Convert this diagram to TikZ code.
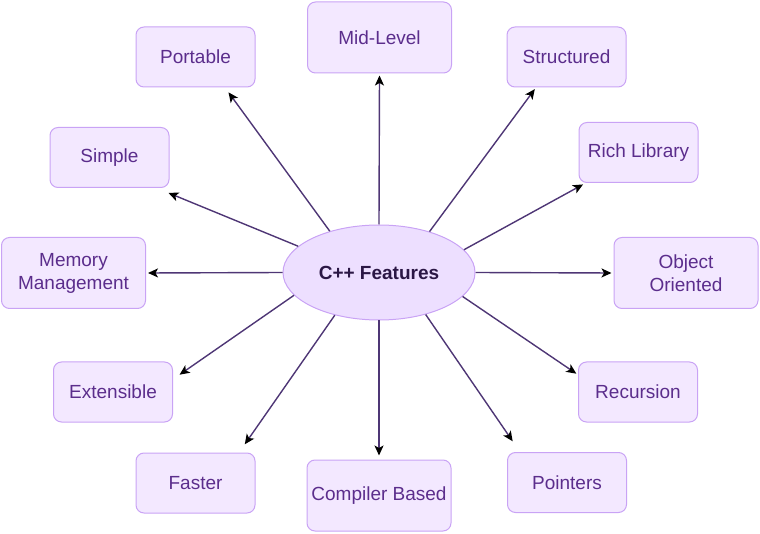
\documentclass[tikz,border=0pt]{standalone}
\usepackage{fontspec}
\setmainfont{Liberation Sans}
\usetikzlibrary{arrows.meta,shapes.geometric}
\definecolor{boxfill}{HTML}{F3E8FF}
\definecolor{boxline}{HTML}{C9A3F5}
\definecolor{hubfill}{HTML}{EDDFFF}
\definecolor{boxtext}{HTML}{5B2D8C}
\definecolor{hubtext}{HTML}{2B1745}
\definecolor{linkline}{HTML}{4E3675}
\begin{document}
\begin{tikzpicture}
  [x=1pt,y=-1pt,every node/.style={font=\fontsize{19}{23}\selectfont,align=center}]
  \tikzstyle{feature} = [draw=boxline,fill=boxfill,text=boxtext,rounded corners=8pt,
                         line width=1pt,minimum width=119pt,minimum height=60pt,inner sep=0pt]
  \tikzstyle{widefeature} = [feature,minimum width=144pt,minimum height=71pt]
  \tikzstyle{hub} = [ellipse,draw=boxline,fill=hubfill,text=hubtext,line width=1pt,
                     minimum width=192pt,minimum height=95pt,inner sep=0pt,font=\fontsize{19}{23}\selectfont\bfseries]
  \tikzstyle{link} = [draw=linkline,line width=1.4pt,-{Stealth[length=10pt,width=9pt,inset=2.5pt,color=black]}]
  \useasboundingbox (0,0) rectangle (760,534);

  \node[hub] (cpp) at (379,272.5) {C++ Features};

  \node[feature] (port) at (195.5,57) {Portable};
  \node[widefeature] (mid) at (379.5,37.5) {Mid-Level};
  \node[feature] (struct) at (566.5,57) {Structured};
  \node[feature] (simple) at (109.5,157.5) {Simple};
  \node[feature] (rich) at (638.5,152.5) {Rich Library};
  \node[widefeature] (mem) at (73.5,273) {Memory\\Management};
  \node[widefeature] (obj) at (686,273) {Object\\Oriented};
  \node[feature] (ext) at (113,392) {Extensible};
  \node[feature] (rec) at (638,392) {Recursion};
  \node[feature] (fast) at (195.5,483) {Faster};
  \node[widefeature] (comp) at (379,495.5) {Compiler Based};
  \node[feature] (ptr) at (567,482.5) {Pointers};

\foreach \source /\dest /\gap in {cpp.140/port.-46/6pt, cpp.90/mid.south/2pt,
    cpp.39/struct.225/2pt, cpp.162/simple.-33/13pt, cpp.15/rich.210/3pt,
    cpp.180/mem.east/2pt, cpp.0/obj.west/2pt, cpp.195/ext.12/8pt,
    cpp.344/rec.164/2pt, cpp.224/fast.35/10pt, cpp.270/comp.north/4pt,
    cpp.318/ptr.147/13pt}
   \draw[link,shorten >=\gap] (\source) -- (\dest);

\end{tikzpicture}
\end{document}
